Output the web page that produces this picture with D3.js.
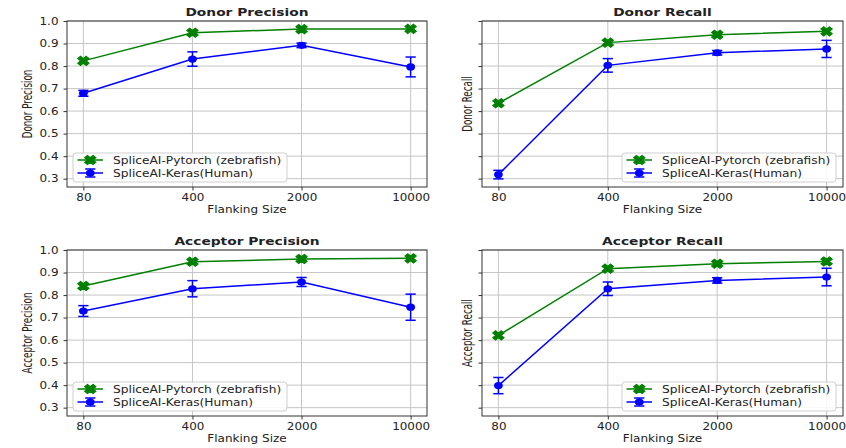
<!DOCTYPE html>
<html>
<head>
<meta charset="utf-8">
<script src="https://cdn.jsdelivr.net/npm/d3@7"></script>
<style>
  body { margin: 0; background: #fff; }
  svg { display: block; }
  text { font-family: "DejaVu Sans", sans-serif; fill: #222; }
</style>
</head>
<body>
<svg id="chart" width="846" height="448"></svg>
<script>
// Flanking sizes on the x axis (categorical, equally spaced)
const flankSizes = ["80", "400", "2000", "10000"];
const yTickValues = [0.3, 0.4, 0.5, 0.6, 0.7, 0.8, 0.9, 1.0];
const seriesNames = ["SpliceAI-Pytorch (zebrafish)", "SpliceAI-Keras(Human)"];

// Donor precision
const donorPrecisionTorch = [0.823, 0.948, 0.964, 0.965];
const donorPrecisionKeras = [0.679, 0.831, 0.892, 0.796];
const donorPrecisionKerasErr = [0.013, 0.032, 0.010, 0.044];

// Donor recall
const donorRecallTorch = [0.635, 0.904, 0.939, 0.954];
const donorRecallKeras = [0.318, 0.803, 0.859, 0.876];
const donorRecallKerasErr = [0.019, 0.030, 0.010, 0.038];

// Acceptor precision
const acceptorPrecisionTorch = [0.840, 0.948, 0.960, 0.963];
const acceptorPrecisionKeras = [0.729, 0.828, 0.858, 0.746];
const acceptorPrecisionKerasErr = [0.024, 0.036, 0.020, 0.058];

// Acceptor recall
const acceptorRecallTorch = [0.621, 0.917, 0.939, 0.949];
const acceptorRecallKeras = [0.398, 0.828, 0.865, 0.880];
const acceptorRecallKerasErr = [0.036, 0.030, 0.012, 0.039];

const panels = [
  { title: "Donor Precision", ylabel: "Donor Precision", torch: donorPrecisionTorch, keras: donorPrecisionKeras, err: donorPrecisionKerasErr,
    box: { left: 67, right: 427, top: 21, bottom: 187 }, yLabels: true, legendSide: "left" },
  { title: "Donor Recall", ylabel: "Donor Recall", torch: donorRecallTorch, keras: donorRecallKeras, err: donorRecallKerasErr,
    box: { left: 482, right: 843, top: 21, bottom: 187 }, yLabels: false, legendSide: "right" },
  { title: "Acceptor Precision", ylabel: "Acceptor Precision", torch: acceptorPrecisionTorch, keras: acceptorPrecisionKeras, err: acceptorPrecisionKerasErr,
    box: { left: 67, right: 427, top: 250, bottom: 416 }, yLabels: true, legendSide: "left" },
  { title: "Acceptor Recall", ylabel: "Acceptor Recall", torch: acceptorRecallTorch, keras: acceptorRecallKeras, err: acceptorRecallKerasErr,
    box: { left: 482, right: 843, top: 250, bottom: 416 }, yLabels: false, legendSide: "right" }
];

const GREEN = "#008000";
const BLUE = "#0000ff";
const GRID = "#c6c6c6";
const SPINE = "#333";
const SX = 1.22;     // horizontal stretch applied to text and markers
const SX_YLAB = 1.5; // thickness stretch of the rotated y-axis labels

const svg = d3.select("#chart");

// Widen each text horizontally by SX while keeping its anchor
function widen(sel) {
  sel.each(function () {
    const n = this.getComputedTextLength();
    d3.select(this).attr("textLength", n * SX).attr("lengthAdjust", "spacingAndGlyphs");
  });
  return sel;
}

// Filled "X" marker outline (rotated filled plus), unit size
const plusPts = [[-1,-3],[1,-3],[1,-1],[3,-1],[3,1],[1,1],[1,3],[-1,3],[-1,1],[-3,1],[-3,-1],[-1,-1]]
  .map(([x, y]) => [x / 6, y / 6]);
function xMarkerPath(size) {
  const c = Math.SQRT1_2;
  const pts = plusPts.map(([x, y]) => [(x * c - y * c) * size, (x * c + y * c) * size]);
  return "M" + pts.map(p => p[0].toFixed(2) + "," + p[1].toFixed(2)).join("L") + "Z";
}
const X_SIZE = 9.8;
const DOT_R = 3.6;
const CAP = 4.2;

function drawXMarker(g, cx, cy) {
  g.append("path")
    .attr("d", xMarkerPath(X_SIZE))
    .attr("transform", `translate(${cx},${cy}) scale(${SX},1)`)
    .attr("fill", GREEN).attr("stroke", GREEN).attr("stroke-width", 1);
}
function drawDot(g, cx, cy) {
  g.append("ellipse")
    .attr("cx", cx).attr("cy", cy)
    .attr("rx", DOT_R * SX).attr("ry", DOT_R)
    .attr("fill", BLUE);
}
function drawErrBar(g, cx, y1, y2) {
  g.append("line").attr("x1", cx).attr("x2", cx).attr("y1", y1).attr("y2", y2)
    .attr("stroke", BLUE).attr("stroke-width", 1.5);
  [y1, y2].forEach(yy => g.append("line")
    .attr("x1", cx - CAP * SX).attr("x2", cx + CAP * SX).attr("y1", yy).attr("y2", yy)
    .attr("stroke", BLUE).attr("stroke-width", 1.5));
}

panels.forEach(p => {
  const b = p.box;
  const g = svg.append("g");

  const x = d3.scalePoint().domain(flankSizes).range([b.left, b.right]).padding(0.15);
  const y = d3.scaleLinear().domain([0.263, 1.0]).range([b.bottom, b.top]);

  // grid
  g.append("g").selectAll("line").data(yTickValues).join("line")
    .attr("x1", b.left).attr("x2", b.right)
    .attr("y1", d => y(d)).attr("y2", d => y(d))
    .attr("stroke", GRID).attr("stroke-width", 1);
  g.append("g").selectAll("line").data(flankSizes).join("line")
    .attr("x1", d => x(d)).attr("x2", d => x(d))
    .attr("y1", b.top).attr("y2", b.bottom)
    .attr("stroke", GRID).attr("stroke-width", 1);

  // axes
  const yAxis = d3.axisLeft(y).tickValues(yTickValues).tickSize(3.5).tickPadding(5)
    .tickFormat(p.yLabels ? d3.format(".1f") : () => "");
  const yg = g.append("g").attr("transform", `translate(${b.left},0)`).call(yAxis);
  yg.select(".domain").remove();
  yg.selectAll(".tick line").attr("stroke", SPINE);
  yg.selectAll(".tick text").attr("font-size", 9.8).attr("font-family", "DejaVu Sans").attr("fill", "#222");
  widen(yg.selectAll(".tick text"));

  const xAxis = d3.axisBottom(x).tickSize(3.5).tickPadding(4);
  const xg = g.append("g").attr("transform", `translate(0,${b.bottom})`).call(xAxis);
  xg.select(".domain").remove();
  xg.selectAll(".tick line").attr("stroke", SPINE);
  xg.selectAll(".tick text").attr("font-size", 9.8).attr("font-family", "DejaVu Sans").attr("fill", "#222");
  widen(xg.selectAll(".tick text"));

  // frame
  g.append("rect").attr("x", b.left).attr("y", b.top)
    .attr("width", b.right - b.left).attr("height", b.bottom - b.top)
    .attr("fill", "none").attr("stroke", SPINE).attr("stroke-width", 1);

  // title and axis labels
  widen(g.append("text").attr("x", (b.left + b.right) / 2).attr("y", b.top - 5)
    .attr("text-anchor", "middle").attr("font-size", 11.3).attr("font-weight", "bold")
    .attr("fill", "#000").text(p.title));
  widen(g.append("text").attr("x", (b.left + b.right) / 2).attr("y", b.bottom + 25.5)
    .attr("text-anchor", "middle").attr("font-size", 9.9).text("Flanking Size"));
  const ylx = p.yLabels ? b.left - 40 : b.left - 15;
  g.append("text")
    .attr("transform", `translate(${ylx},${(b.top + b.bottom) / 2}) scale(${SX_YLAB},1) rotate(-90)`)
    .attr("text-anchor", "middle").attr("dy", "0.35em")
    .attr("font-size", 8.8).text(p.ylabel);

  // series lines
  const line = d3.line().x((d, i) => x(flankSizes[i])).y(d => y(d));
  g.append("path").datum(p.torch).attr("d", line)
    .attr("fill", "none").attr("stroke", GREEN).attr("stroke-width", 1.5);
  p.torch.forEach((v, i) => drawXMarker(g, x(flankSizes[i]), y(v)));

  g.append("path").datum(p.keras).attr("d", line)
    .attr("fill", "none").attr("stroke", BLUE).attr("stroke-width", 1.5);
  p.keras.forEach((v, i) => {
    drawErrBar(g, x(flankSizes[i]), y(v - p.err[i]), y(v + p.err[i]));
    drawDot(g, x(flankSizes[i]), y(v));
  });

  // legend
  const lw = 214, lh = 29;
  const lx = p.legendSide === "left" ? b.left + 6 : b.right - 7 - lw;
  const ly = b.bottom - 34;
  const lg = g.append("g");
  lg.append("rect").attr("x", lx).attr("y", ly).attr("width", lw).attr("height", lh)
    .attr("rx", 3).attr("fill", "#fff").attr("fill-opacity", 0.85)
    .attr("stroke", "#cfcfcf").attr("stroke-width", 1);
  const rows = [ly + 7, ly + 20];
  const hx1 = lx + 4.5, hx2 = lx + 30, hmx = (hx1 + hx2) / 2;
  lg.append("line").attr("x1", hx1).attr("x2", hx2).attr("y1", rows[0]).attr("y2", rows[0])
    .attr("stroke", GREEN).attr("stroke-width", 1.5);
  drawXMarker(lg, hmx, rows[0]);
  lg.append("line").attr("x1", hx1).attr("x2", hx2).attr("y1", rows[1]).attr("y2", rows[1])
    .attr("stroke", BLUE).attr("stroke-width", 1.5);
  drawErrBar(lg, hmx, rows[1] - 4, rows[1] + 4);
  drawDot(lg, hmx, rows[1]);
  seriesNames.forEach((name, i) => {
    widen(lg.append("text").attr("x", lx + 40).attr("y", rows[i]).attr("dy", "0.36em")
      .attr("font-size", 10).text(name));
  });
});
</script>
</body>
</html>
